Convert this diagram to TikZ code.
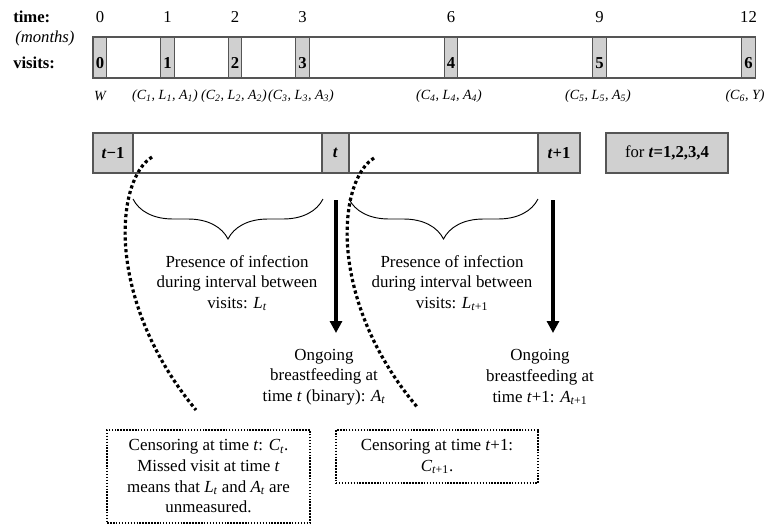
\documentclass[tikz,border=0pt]{standalone}
\usepackage{fontspec}
\setmainfont{Liberation Serif}
\usetikzlibrary{positioning, arrows.meta, decorations.pathreplacing}
\definecolor{cellgray}{RGB}{208,208,208}
\definecolor{edgegray}{RGB}{85,85,85}

\begin{document}
\begin{tikzpicture}[x=0.75pt, y=-0.75pt]

\tikzstyle{toplab}=[inner sep=0pt, font=\fontsize{12.5}{15}\selectfont]
\tikzstyle{bar}=[draw=edgegray, line width=0.9pt, fill=white, inner sep=0pt]
\tikzstyle{cell}=[draw=edgegray, line width=0.9pt, fill=cellgray, inner sep=0pt, minimum width=10.1pt, minimum height=30.75pt, text height=16pt, text depth=0pt, font=\fontsize{12.5}{15}\selectfont\bfseries]
\tikzstyle{tcell}=[draw=edgegray, line width=0.9pt, fill=cellgray, inner sep=0pt, minimum height=30pt, font=\fontsize{12.5}{15}\selectfont\bfseries]
\tikzstyle{var}=[inner sep=0pt, font=\fontsize{10.5}{12}\selectfont\itshape]
\tikzstyle{body}=[inner sep=2pt, align=center, font=\fontsize{12.7}{15.5}\selectfont]
\tikzstyle{note}=[draw, dash pattern=on 1.1pt off 1.1pt, line width=1.5pt, inner sep=0pt, align=center, font=\fontsize{12.7}{15.5}\selectfont]
\tikzstyle{censor}=[line width=2.4pt, dash pattern=on 2.4pt off 2pt]
\tikzstyle{flow}=[line width=2.3pt, -{Triangle[width=9pt, length=9pt]}]
\tikzstyle{curly}=[draw, line width=0.7pt, decorate, decoration={brace, amplitude=30pt, aspect=0.5}]

\useasboundingbox (0,0) rectangle (768,525);

% time axis
\node[toplab, anchor=west, font=\fontsize{12.5}{15}\selectfont\bfseries] (timelab) at (13,17) {time:};
\node[toplab, anchor=west, font=\fontsize{12.5}{15}\selectfont\itshape] (monthlab) at (15,38) {(months)};
\node[toplab, anchor=west, font=\fontsize{12.5}{15}\selectfont\bfseries] (visitlab) at (13,63) {visits:};

\node[toplab] (t0) at (100,17) {0};
\node[toplab] (t1) at (167.5,17) {1};
\node[toplab] (t2) at (235,17) {2};
\node[toplab] (t3) at (302.5,17) {3};
\node[toplab] (t6) at (451,17) {6};
\node[toplab] (t9) at (599.5,17) {9};
\node[toplab] (t12) at (748.5,17) {12};

\node[bar, minimum width=496.5pt, minimum height=30.75pt] (visits) at (424,57.5) {};
\node[cell] (v0) at (100,57.5) {0};
\node[cell] (v1) at (167.5,57.5) {1};
\node[cell] (v2) at (235,57.5) {2};
\node[cell] (v3) at (302.5,57.5) {3};
\node[cell] (v4) at (451,57.5) {4};
\node[cell] (v5) at (599.5,57.5) {5};
\node[cell] (v6) at (748.5,57.5) {6};

\node[var] (w0) at (100,96) {W};
\node[var] (w1) at (165,96) {(C\textsubscript{1}, L\textsubscript{1}, A\textsubscript{1})};
\node[var] (w2) at (234,96) {(C\textsubscript{2}, L\textsubscript{2}, A\textsubscript{2})};
\node[var] (w3) at (301,96) {(C\textsubscript{3}, L\textsubscript{3}, A\textsubscript{3})};
\node[var] (w4) at (449,96) {(C\textsubscript{4}, L\textsubscript{4}, A\textsubscript{4})};
\node[var] (w5) at (598,96) {(C\textsubscript{5}, L\textsubscript{5}, A\textsubscript{5})};
\node[var] (w6) at (745,96) {(C\textsubscript{6}, Y)};

% generic interval
\node[bar, minimum width=365.25pt, minimum height=30pt] (interval) at (336.5,153) {};
\node[tcell, minimum width=30pt] (prev) at (113,153) {\textit{t}−1};
\node[tcell, minimum width=20.25pt] (now) at (335.5,153) {\textit{t}};
\node[tcell, minimum width=31.5pt] (next) at (559,153) {\textit{t}+1};
\node[tcell, minimum width=91.5pt, font=\fontsize{12.5}{15}\selectfont] (forall) at (667,153) {for \textbf{\textit{t}=1,2,3,4}};

\draw[curly] (323,199) -- (133,199);
\draw[curly] (538,199) -- (349,199);

\node[body] (inf1) at (237,283) {Presence of infection\\during interval between\\visits: \textit{L\textsubscript{t}}};
\node[body] (inf2) at (452,283) {Presence of infection\\during interval between\\visits: \textit{L}\textsubscript{\textit{t}+1}};

\node[body] (feed1) at (324,377) {Ongoing\\breastfeeding at\\time \textit{t} (binary): \textit{A\textsubscript{t}}};
\node[body] (feed2) at (540,377) {Ongoing\\breastfeeding at\\time \textit{t}+1: \textit{A}\textsubscript{\textit{t}+1}};

\coordinate (a1) at (336,200);
\coordinate (a2) at (553,200);
\draw[flow] (a1) -- (a1 |- 0,333);
\draw[flow] (a2) -- (a2 |- 0,333);

\node[note, minimum width=152pt, minimum height=70pt] (cens1) at (208.5,476.5) {Censoring at time \textit{t}: \textit{C\textsubscript{t}}.\\Missed visit at time \textit{t}\\means that \textit{L\textsubscript{t}} and \textit{A\textsubscript{t}} are\\unmeasured.};
\node[note, minimum width=151.5pt, minimum height=40pt] (cens2) at (437,456.5) {Censoring at time \textit{t}+1:\\\textit{C}\textsubscript{\textit{t}+1}.};

\coordinate (c1) at (152,157);
\coordinate (c2) at (374,158);
\draw[censor] (c1) .. controls (115,180) and (105,300) .. (196,410);
\draw[censor] (c2) .. controls (337,181) and (327,301) .. (418,408);

\end{tikzpicture}
\end{document}
